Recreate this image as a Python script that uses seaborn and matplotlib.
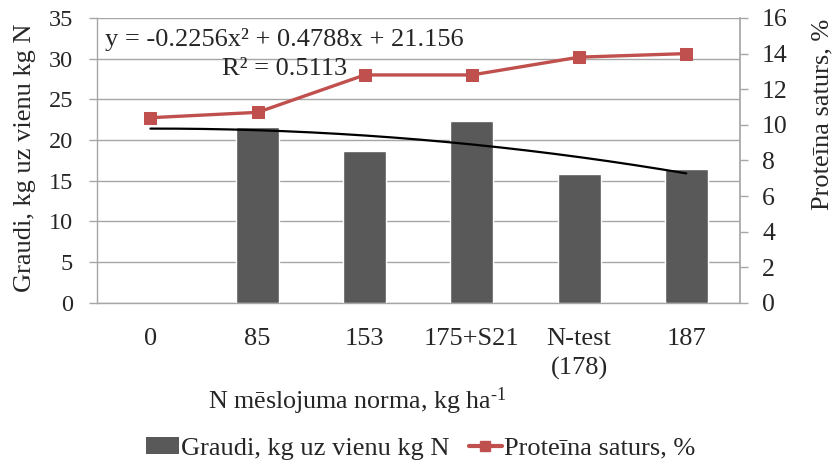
import numpy as np
import pandas as pd
import matplotlib
matplotlib.use("Agg")
import matplotlib.pyplot as plt
from matplotlib.lines import Line2D
from matplotlib.patches import Patch
import seaborn as sns

# Nitrogen fertiliser rates (x categories)
categories = ["0", "85", "153", "175+S21", "N-test\n(178)", "187"]
# Grain yield per kg of applied N (no value for the unfertilised plot)
grain_per_n = [np.nan, 21.6, 18.7, 22.4, 15.8, 16.4]
# Protein content, %
protein = [10.4, 10.7, 12.8, 12.8, 13.8, 14.0]
# Polynomial trend of grain per kg N (stated in the chart)
trend_coef = [-0.2256, 0.4788, 21.156]
trend_label = "y = -0.2256x\u00b2 + 0.4788x + 21.156"
r2_label = "R\u00b2 = 0.5113"

left_ticks = [0, 5, 10, 15, 20, 25, 30, 35]
right_ticks = [0, 2, 4, 6, 8, 10, 12, 14, 16]

sns.set_theme(style="white")
plt.rcParams["font.family"] = ["Liberation Serif", "DejaVu Serif"]
plt.rcParams["mathtext.fontset"] = "custom"
plt.rcParams["mathtext.rm"] = "Liberation Serif"
plt.rcParams["mathtext.it"] = "Liberation Serif:italic"

BAR_COLOR = "#595959"
RED = "#C0504D"
GRID = "#A6A6A6"

df = pd.DataFrame({"rate": categories, "grain": grain_per_n, "protein": protein})
df["pos"] = np.arange(len(categories))

fig = plt.figure(figsize=(8.35, 4.61), dpi=100)
ax = fig.add_axes([0.116, 0.343, 0.770, 0.618])

sns.barplot(data=df.dropna(subset=["grain"]), x="rate", y="grain", order=categories,
            color=BAR_COLOR, saturation=1, width=0.4, ax=ax, zorder=3)

# Trend line drawn across categories 1..6
xs = np.linspace(1, len(categories), 200)
ax.plot(xs - 1, np.polyval(trend_coef, xs), color="black", lw=1.6, zorder=5)

ax.set_xlim(-0.5, len(categories) - 0.5)
ax.set_ylim(0, 35)
ax.set_yticks(left_ticks)
ax.set_xticks(df["pos"])
ax.set_xticklabels(categories, fontsize=19, linespacing=1.4)
ax.set_xticks(np.arange(-0.5, len(categories)), minor=True)
ax.tick_params(axis="x", which="major", length=0, pad=18)
ax.tick_params(axis="x", which="minor", length=7, width=1, color=GRID, direction="out")
ax.tick_params(axis="y", length=6, width=1, color=GRID, labelsize=17.5, pad=11, direction="out")
ax.grid(axis="y", color=GRID, lw=1, zorder=0)
ax.set_axisbelow(True)
ax.set_xlabel("N mēslojuma norma, kg ha$^{\\mathregular{\u20101}}$", fontsize=18.7)
ax.xaxis.set_label_coords(0.405, -0.29)
ax.set_ylabel("Graudi, kg uz vienu kg N", fontsize=19)
ax.yaxis.set_label_coords(-0.095, 0.51)
for side in ["left", "bottom"]:
    ax.spines[side].set_color(GRID)
    ax.spines[side].set_linewidth(1)
ax.spines["top"].set_visible(False)
ax.spines["right"].set_visible(False)

ax2 = ax.twinx()
sns.lineplot(data=df, x="pos", y="protein", color=RED, lw=2.4, marker="s",
             markersize=9, markeredgecolor=RED, ax=ax2, zorder=6)
ax2.set_ylim(0, 16)
ax2.set_yticks(right_ticks)
ax2.tick_params(axis="y", length=6, width=1, color=GRID, labelsize=18.5, pad=10, direction="out")
ax2.set_ylabel("Proteīna saturs, %", fontsize=19)
ax2.yaxis.set_label_coords(1.112, 0.66)
ax2.set_xlabel("")
for side in ["left", "top", "bottom"]:
    ax2.spines[side].set_visible(False)
ax2.spines["right"].set_color(GRID)
ax2.grid(False)

ax.text(0.013, 0.924, trend_label, transform=ax.transAxes, fontsize=19,
        va="center", ha="left", zorder=7)
ax.text(0.194, 0.822, r2_label, transform=ax.transAxes, fontsize=19,
        va="center", ha="left", zorder=7)

handles = [Patch(facecolor=BAR_COLOR, edgecolor="none"),
           Line2D([], [], color=RED, lw=3, marker="s", markersize=7)]
labels = ["Graudi, kg uz vienu kg N", "Proteīna saturs, %"]
fig.legend(handles, labels, loc="center", bbox_to_anchor=(0.504, 0.027), ncol=2,
           frameon=False, fontsize=19, handlelength=1.25, handletextpad=0.08,
           columnspacing=0.72, handleheight=0.6, borderpad=0.2)

fig.savefig("out.png", dpi=100)
